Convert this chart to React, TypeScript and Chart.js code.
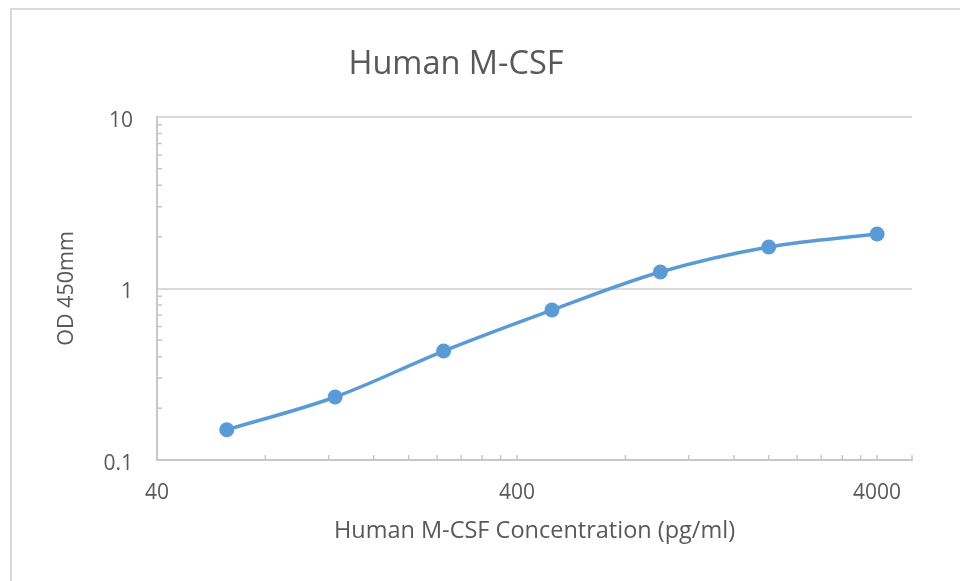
import React, { useEffect, useRef } from "react";
import { Chart, registerables } from "chart.js";

Chart.register(...registerables);

const CONCENTRATIONS = [62.5, 125, 250, 500, 1000, 2000, 4000];
const OD_VALUES = [0.15, 0.233, 0.432, 0.749, 1.248, 1.746, 2.08];
const X_TICK_LABELS = [40, 400, 4000];
const Y_TICK_LABELS = [0.1, 1, 10];
const X_MINOR = [80, 120, 160, 200, 240, 280, 320, 360, 400, 800, 1200, 1600, 2000, 2400, 2800, 3200, 3600, 4000];
const Y_MINOR = [0.2, 0.3, 0.4, 0.5, 0.6, 0.7, 0.8, 0.9, 2, 3, 4, 5, 6, 7, 8, 9];

const TITLE = "Human M-CSF";
const X_TITLE = "Human M-CSF Concentration (pg/ml)";
const Y_TITLE = "OD 450mm";

const BLUE = "#5b9bd5";
const TEXT = "#595959";
const AXIS = "#c8c8c8";
const GRID = "#d9d9d9";
const FONT = "'Open Sans', 'Noto Sans', sans-serif";

const minorTicks = {
  id: "minorTicks",
  afterDatasetsDraw(chart: any) {
    const { ctx, chartArea, scales } = chart;
    ctx.save();
    ctx.strokeStyle = AXIS;
    ctx.lineWidth = 1.5;
    ctx.beginPath();
    const xs = [...X_MINOR.map((v) => scales.x.getPixelForValue(v)), chartArea.right];
    for (const x of xs) {
      ctx.moveTo(x, chartArea.bottom);
      ctx.lineTo(x, chartArea.bottom - 5);
    }
    for (const v of Y_MINOR) {
      const y = scales.y.getPixelForValue(v);
      ctx.moveTo(chartArea.left, y);
      ctx.lineTo(chartArea.left + 5, y);
    }
    ctx.stroke();
    ctx.restore();
  },
};

export default function App() {
  const ref = useRef<HTMLCanvasElement | null>(null);
  useEffect(() => {
    if (!ref.current) return;
    const chart = new Chart(ref.current, {
      type: "line",
      data: {
        datasets: [
          {
            data: CONCENTRATIONS.map((x, i) => ({ x, y: OD_VALUES[i] })),
            borderColor: BLUE,
            backgroundColor: BLUE,
            borderWidth: 3.5,
            pointRadius: 7.5,
            pointBackgroundColor: BLUE,
            pointBorderColor: BLUE,
            pointBorderWidth: 0,
            tension: 0.35,
            fill: false,
          },
        ],
      },
      options: {
        responsive: false,
        animation: false,
        layout: { padding: { left: 0, right: 48, top: 0, bottom: 0 } },
        plugins: {
          legend: { display: false },
          tooltip: { enabled: false },
          title: {
            display: true,
            text: TITLE,
            color: TEXT,
            font: { family: FONT, size: 32.5, weight: "normal" },
            padding: { top: 45, bottom: 33 },
          },
        },
        scales: {
          x: {
            type: "logarithmic",
            min: 40,
            max: 5000,
            afterBuildTicks: (s: any) => {
              s.ticks = X_TICK_LABELS.map((v) => ({ value: v }));
            },
            afterFit: (s: any) => {
              s.height = 121;
            },
            grid: { display: false, drawTicks: false },
            border: { display: true, color: AXIS, width: 2 },
            ticks: {
              color: TEXT,
              font: { family: FONT, size: 21 },
              padding: 20,
              maxRotation: 0,
              autoSkip: false,
              callback: (v: any) => String(v),
            },
            title: {
              display: true,
              text: X_TITLE,
              color: TEXT,
              font: { family: FONT, size: 23.5 },
              padding: { top: 0, bottom: 36 },
            },
          },
          y: {
            type: "logarithmic",
            min: 0.1,
            max: 10,
            afterBuildTicks: (s: any) => {
              s.ticks = Y_TICK_LABELS.map((v) => ({ value: v }));
            },
            afterFit: (s: any) => {
              s.width = 157;
            },
            grid: { color: GRID, lineWidth: 2, drawTicks: false },
            border: { display: true, color: AXIS, width: 2 },
            ticks: {
              color: TEXT,
              font: { family: FONT, size: 21 },
              padding: 24,
              labelOffset: 4,
              autoSkip: false,
              callback: (v: any) => String(v),
            },
            title: {
              display: true,
              text: Y_TITLE,
              color: TEXT,
              font: { family: FONT, size: 21.5 },
              padding: { top: 54, bottom: 0 },
            },
          },
        },
      },
      plugins: [minorTicks],
    } as any);
    return () => chart.destroy();
  }, []);

  return (
    <div style={{ position: "fixed", left: 0, top: 0, width: 960, height: 581, background: "#fff" }}>
      <div
        style={{
          position: "absolute",
          left: 10,
          top: 8,
          right: 0,
          bottom: 0,
          borderLeft: "2px solid #d9d9d9",
          borderTop: "2px solid #d9d9d9",
        }}
      />
      <canvas ref={ref} width={960} height={581} style={{ position: "absolute", left: 0, top: 0 }} />
    </div>
  );
}
